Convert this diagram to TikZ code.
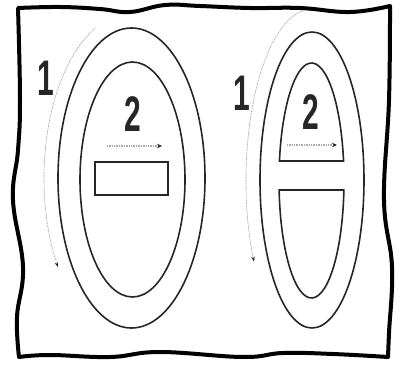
\documentclass[tikz,border=0pt]{standalone}
\usepackage{fontspec}
\setmainfont{Liberation Sans}
\usetikzlibrary{arrows.meta,positioning,shapes.geometric}
\definecolor{inkc}{HTML}{262626}
\definecolor{trailc}{HTML}{A8A8A8}
\tikzset{
  ringnode/.style={ellipse, draw=inkc, line width=1.6pt, inner sep=0pt, outer sep=0pt},
  slotnode/.style={rectangle, draw=inkc, line width=1.6pt, inner sep=0pt,
    minimum width=73pt, minimum height=33pt},
  digitnode/.style={inner sep=0pt, font=\fontsize{50}{50}\selectfont\bfseries, text=inkc},
  ringline/.style={draw=inkc, line width=1.6pt},
  frameline/.style={draw=black, line width=4pt, line join=round},
  passedge/.style={-{Stealth[length=5pt, width=4.5pt, color=inkc]}, draw=trailc,
    line width=1.4pt, dash pattern=on 1pt off 0.7pt},
  turnedge/.style={-{Stealth[length=5pt, width=3.5pt, color=inkc]}, draw=trailc,
    line width=0.6pt, dash pattern=on 2pt off 0.8pt},
}

\begin{document}
\begin{tikzpicture}[x=1pt, y=1pt]
  \useasboundingbox (0,0) rectangle (405,365);
  % wavy frame
  \draw[frameline] plot[smooth, tension=0.7] coordinates {(18,357) (60,358) (100,356) (130,353) (165,360) (200,359) (250,357) (300,357) (350,353) (390,359)}
    -- plot[smooth, tension=0.7] coordinates {(390,359) (389,265) (384,165) (392,98) (389,32) (388,8)}
    -- plot[smooth, tension=0.7] coordinates {(388,8) (333,11) (283,12) (243,8) (160,13) (110,8) (50,10) (19,8)}
    -- plot[smooth, tension=0.7] coordinates {(19,8) (17,48) (23,98) (13,165) (18,215) (20,265) (18,357)} -- cycle;

  % left figure
  \node[ringnode, minimum width=147pt, minimum height=300pt] (outl) at (131.5,187) {};
  \node[ringnode, minimum width=105pt, minimum height=235pt] (inl) at (132.5,185.5) {};
  \node[slotnode] (slotl) at (131.5,186.5) {};
  \node[digitnode] (onel) at (46,287) {\scalebox{0.6}[1]{1}};
  \node[digitnode] (twol) at (132.5,250.5) {\scalebox{0.6}[1]{2}};
  \coordinate (pathls) at (107,219);
  \coordinate (pathle) at (162,219);
  \draw[passedge] (pathls) -- (pathle);
  \draw[turnedge] (132,187) ++(114.7:88pt and 165pt)
    arc[start angle=114.7, end angle=212.7, x radius=88pt, y radius=165pt];

  % right figure
  \node[ringnode, minimum width=104pt, minimum height=296pt] (outr) at (312,185) {};
  \draw[ringline] (343.55,204) arc[start angle=9.55, end angle=170.45, x radius=32.5pt, y radius=117.5pt] -- cycle;
  \draw[ringline] (343.9,175) arc[start angle=-4.64, end angle=-175.36, x radius=32.5pt, y radius=117.5pt] -- cycle;
  \node[digitnode] (oner) at (242,271.5) {\scalebox{0.6}[1]{1}};
  \node[digitnode] (twor) at (311,252.5) {\scalebox{0.6}[1]{2}};
  \coordinate (pathrs) at (287,220);
  \coordinate (pathre) at (337,220);
  \draw[passedge] (pathrs) -- (pathre);
  \draw[turnedge] (312,185) ++(96.6:66pt and 171pt)
    arc[start angle=96.6, end angle=208.5, x radius=66pt, y radius=171pt];
\end{tikzpicture}
\end{document}
